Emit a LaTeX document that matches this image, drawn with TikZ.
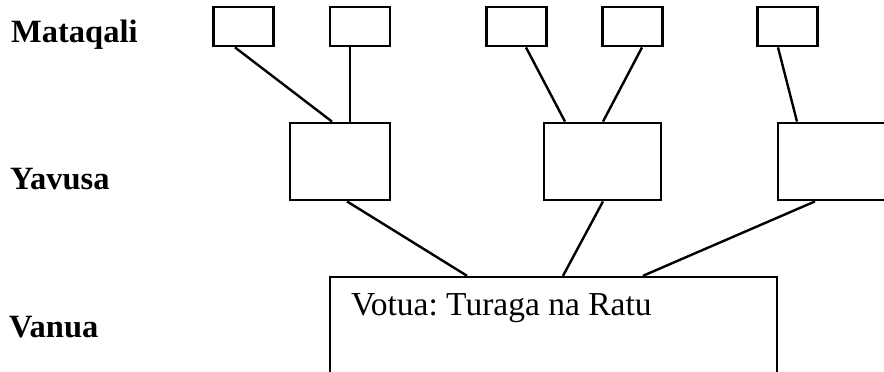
\documentclass[tikz,border=0pt]{standalone}
\usepackage{fontspec}
\setmainfont{Liberation Serif}
\usepackage{tikz}
\usetikzlibrary{positioning}
\tikzstyle{CajaMataqali}=[rectangle, draw=black, line width=2.8pt, minimum width=60pt, minimum height=39pt, inner sep=0pt]
\tikzstyle{CajaYavusa}=[rectangle, draw=black, line width=2.8pt, minimum width=117pt, minimum height=77pt, inner sep=0pt]
\tikzstyle{CajaVanua}=[rectangle, draw=black, line width=2.4pt, minimum width=447pt, minimum height=110pt, inner sep=0pt]
\tikzstyle{Nivel}=[anchor=base west, inner sep=0pt, font=\fontsize{32.5}{36}\selectfont\bfseries]
\tikzstyle{Texto}=[anchor=base west, inner sep=0pt, font=\fontsize{33.5}{36}\selectfont\frenchspacing]
\tikzstyle{Linea}=[-, line width=2.4pt]

\begin{document}
\begin{tikzpicture}[x=1pt, y=-1pt]
			\useasboundingbox (0,0) rectangle (884,372);

			%Niveles
			\node[Nivel]		(nivel_mataqali)	at (11,42)		{Mataqali};
			\node[Nivel]		(nivel_yavusa)		at (10,189)		{Yavusa};
			\node[Nivel]		(nivel_vanua)		at (9,337)		{Vanua};

			%Nodos
			\node[CajaMataqali]	(mataqali1)		at (243.5,26.5)	{};
			\node[CajaMataqali]	(mataqali2)		at (360,26.5)		{};
			\node[CajaMataqali]	(mataqali3)		at (516.5,26.5)	{};
			\node[CajaMataqali]	(mataqali4)		at (632.5,26.5)	{};
			\node[CajaMataqali]	(mataqali5)		at (787.5,26.5)	{};

			\node[CajaYavusa, minimum width=100pt]	(yavusa1)	at (340,161.5)	{};
			\node[CajaYavusa]	(yavusa2)		at (602.5,161.5)	{};
			\node[CajaYavusa]	(yavusa3)		at (836.5,161.5)	{};

			\node[CajaVanua]		(vanua)		at (553.5,332)		{};
			\node[Texto]		(votua)		at ([xshift=22pt, yshift=-40pt]vanua.north west)	{Votua: Turaga na Ratu};

			%Lineas
			\draw[Linea] ([xshift=-8.5pt]mataqali1.south) -- ([xshift=-8pt]yavusa1.north);
			\draw[Linea] ([xshift=-10pt]mataqali2.south) -- ([xshift=10pt]yavusa1.north);
			\draw[Linea] ([xshift=9.5pt]mataqali3.south) -- ([xshift=-37.5pt]yavusa2.north);
			\draw[Linea] ([xshift=9.5pt]mataqali4.south) -- ([xshift=0.5pt]yavusa2.north);
			\draw[Linea] ([xshift=-9.5pt]mataqali5.south) -- ([xshift=-39.5pt]yavusa3.north);

			\draw[Linea] ([xshift=7pt]yavusa1.south) -- ([xshift=-86.5pt]vanua.north);
			\draw[Linea] ([xshift=0.5pt]yavusa2.south) -- ([xshift=9.5pt]vanua.north);
			\draw[Linea] ([xshift=-21.5pt]yavusa3.south) -- ([xshift=89.5pt]vanua.north);

		\end{tikzpicture}
\end{document}
